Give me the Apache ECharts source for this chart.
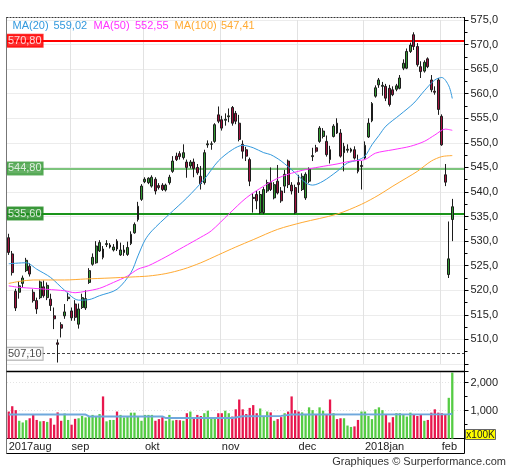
<!DOCTYPE html>
<html><head><meta charset="utf-8">
<script src="https://cdn.jsdelivr.net/npm/echarts@6/dist/echarts.min.js"></script>
<style>html,body{margin:0;padding:0;background:#fff}#c{width:512px;height:470px}</style>
</head><body><div id="c"></div>
<script>
// ---------- DATA ----------
const monthLabels = ['2017aug','sep','okt','nov','dec','2018jan','feb'];
const monthStarts = [0, 18, 39, 61, 83, 102, 124];

const opens = [530.7,527.4,519.8,519.6,521.4,524.0,524.9,519.6,517.9,518.5,
520.7,518.5,518.2,514.8,509.3,513.0,514.8,518.3,515.8,517.2,
513.1,516.5,516.4,521.6,525.3,525.6,528.0,528.4,529.3,528.8,
528.2,530.0,527.2,527.7,527.3,529.5,531.7,534.4,538.5,542.1,
541.9,541.2,542.6,541.3,541.4,540.4,541.9,544.2,547.3,547.8,
547.0,546.1,545.3,546.1,545.0,543.2,541.9,549.6,549.7,550.3,
555.7,554.7,554.6,555.3,557.2,556.0,554.0,549.7,548.6,546.6,
538.9,539.5,535.8,535.8,540.2,541.9,538.8,542.2,540.2,541.2,
546.3,541.4,540.9,541.9,540.5,538.8,542.2,547.2,549.0,550.3,
551.3,550.3,548.6,551.3,554.0,552.0,548.0,548.5,548.3,548.6,
546.3,545.2,546.9,551.2,554.5,559.5,561.8,561.5,561.5,561.1,
560.8,560.9,561.1,565.2,565.2,568.6,572.0,569.6,565.5,564.6,
567.1,562.8,560.5,562.8,555.4,543.5,523.2,534.4];
const closes = [527.7,523.6,516.4,520.9,522.5,526.1,523.3,517.9,516.2,521.7,
518.9,521.0,516.9,514.2,509.0,512.3,515.6,518.6,514.4,514.5,
516.2,518.5,518.3,524.0,526.7,529.0,529.7,526.7,529.5,529.2,
528.8,528.4,528.2,528.2,528.7,531.4,533.4,537.1,541.2,542.6,
542.8,543.0,540.2,540.9,540.5,541.4,543.0,546.3,546.6,547.2,
548.0,545.0,546.1,544.8,543.9,541.7,548.0,549.8,549.8,553.7,
554.4,553.0,554.8,555.5,554.0,554.4,550.7,548.3,547.3,542.2,
538.7,538.2,539.5,540.5,541.9,540.5,541.5,539.8,538.2,543.6,
541.5,540.2,535.8,541.5,543.2,543.6,544.6,547.4,548.3,553.0,
552.4,547.6,546.6,553.4,552.0,547.3,549.3,548.7,548.7,546.9,
544.2,545.4,549.5,554.0,558.0,561.2,562.8,561.7,559.1,557.8,
559.8,561.6,563.2,566.2,568.6,569.9,569.6,565.9,564.5,566.4,
565.5,560.8,560.3,556.8,549.6,542.0,526.4,537.0];
const highs = [531.5,528.0,520.3,521.9,523.0,526.6,525.5,520.2,518.5,522.0,
522.0,521.6,519.3,516.5,510.0,513.5,517.2,519.5,516.5,518.0,
517.3,519.3,520.0,524.5,527.5,530.0,530.2,529.0,530.2,529.6,
529.4,530.4,529.7,529.2,529.9,532.0,533.8,538.0,541.6,543.0,
543.0,543.4,543.0,541.8,541.8,541.7,543.5,547.3,548.0,548.3,
549.7,546.6,546.5,546.8,545.7,545.3,548.6,550.5,550.3,554.0,
557.4,555.5,556.0,557.0,557.5,556.5,555.7,550.5,549.2,547.0,
539.8,540.2,540.2,541.0,542.5,545.0,542.0,545.5,541.0,544.5,
546.6,542.0,541.5,543.5,543.8,544.0,545.0,549.0,549.6,553.4,
553.0,551.5,549.4,553.8,555.0,552.8,550.0,549.7,549.0,549.3,
547.6,546.3,550.3,555.0,558.3,561.7,563.2,562.4,562.0,561.8,
561.5,562.0,563.8,567.0,569.2,570.4,572.5,570.3,566.6,566.8,
567.4,563.8,561.5,563.2,555.8,545.7,534.0,538.6];
const lows = [527.2,523.0,515.8,518.3,520.5,523.7,522.8,517.5,515.2,518.2,
518.5,518.0,515.8,512.1,505.3,510.4,514.2,517.8,513.8,513.8,
512.2,516.2,516.0,521.3,525.0,525.4,527.8,526.3,528.8,528.5,
527.9,528.0,527.0,527.0,527.0,529.2,531.5,534.0,538.2,541.8,
541.6,540.9,539.5,540.5,540.2,540.1,541.5,543.9,546.3,546.6,
546.6,542.9,544.8,543.0,543.5,540.5,541.5,549.0,548.6,550.0,
554.0,552.5,553.5,554.2,553.5,553.8,550.3,546.8,546.3,541.2,
535.8,536.5,535.5,535.5,539.8,540.2,538.5,539.5,537.8,539.8,
540.8,539.5,535.5,539.8,540.2,538.4,541.8,546.3,548.0,550.0,
550.9,547.2,545.8,551.1,551.8,547.0,544.2,548.0,548.0,546.6,
543.8,540.5,546.6,551.0,554.2,559.2,561.2,559.6,558.5,557.4,
559.5,560.5,560.9,564.8,565.0,568.3,568.9,565.5,563.2,564.3,
565.2,560.3,559.8,555.7,549.4,541.2,522.5,530.0];
// volume in units of 100K shares
const volumes = [970,1160,1020,640,580,660,730,850,670,620,
630,600,730,500,940,640,900,670,500,710,
730,810,760,810,850,810,880,1510,620,670,
670,970,850,760,790,930,930,790,640,850,
850,850,640,700,770,640,850,650,670,660,
640,910,970,730,850,810,910,1000,770,770,
910,910,1000,910,790,1050,1400,1050,880,1100,
1200,910,1080,810,970,940,640,700,770,910,
970,1510,1020,970,940,880,1120,1020,880,1120,
1000,850,1400,910,700,730,730,470,420,440,
670,970,970,810,700,1050,1120,1020,880,580,
770,910,910,880,790,930,850,810,850,640,
670,930,1050,930,910,850,1460,2360];
// moving averages: [candle index, value]
const ma20 = [[0,525.4],[5,525.6],[8,524.3],[12,522.6],[16,520.0],[20,518.0],[23,518.1],[26,518.9],[31,520.2],[35,523.6],[37,527.0],[39,530.2],[41,532.1],[46,535.5],[51,538.8],[56,542.6],[60,546.3],[64,548.6],[67,549.5],[70,549.0],[73,548.0],[75,547.6],[78,546.3],[82,543.9],[85,541.9],[87,541.4],[90,542.2],[94,544.2],[97,545.9],[100,546.5],[102,547.3],[104,549.6],[106,551.5],[108,553.4],[112,555.7],[116,558.1],[119,560.6],[122,562.8],[124,563.3],[126,561.6],[127,559.02]];
const ma50 = [[0,520.9],[3,520.6],[7,520.4],[11,520.2],[16,519.9],[19,519.5],[22,519.8],[26,520.4],[30,521.6],[34,522.9],[37,524.3],[40,525.0],[45,526.8],[50,528.8],[55,530.8],[58,532.1],[63,535.5],[68,538.8],[73,541.2],[77,542.8],[80,543.6],[84,544.4],[89,545.1],[94,545.7],[98,546.3],[102,546.6],[105,547.9],[110,548.6],[115,549.3],[119,550.3],[122,551.6],[125,552.8],[127,552.55]];
const ma100 = [[0,521.4],[3,521.8],[7,522.1],[16,522.1],[22,522.3],[29,522.5],[35,522.7],[40,522.9],[45,523.4],[50,524.3],[55,525.6],[60,527.2],[65,528.8],[70,530.3],[77,532.4],[84,533.8],[94,535.5],[101,537.5],[106,539.4],[110,541.2],[114,542.9],[117,544.2],[121,546.3],[124,547.2],[127,547.41]];
const volMa = [[0,860],[22,860],[23,795],[44,795],[45,735],[64,740],[67,800],[78,815],[81,865],[126,870],[127,890]];
// horizontal price levels
const levelValues = [570.8, 544.8, 535.6, 507.1];
const levelTexts = ['570,80','544,80','535,60','507,10'];

// ---------- BUILD ----------
const FONT = '"Liberation Sans", Arial, sans-serif';
const UP = '#339933', DOWN = '#A3123F';
const VUP = '#55CC44', VDOWN = '#E8174D';
const C20 = '#3399DD', C50 = '#FF33FF', C100 = '#FFAA33';
const padCats = 3;
const categories = Array.from({length: opens.length + padCats}, (_, i) => String(i));
const candles = opens.map((o, i) => [o, closes[i], lows[i], highs[i]]);
const volData = volumes.map((v, i) => ({value: v, itemStyle: {color: closes[i] >= opens[i] ? VUP : VDOWN}}));
const isMonth = (idx) => monthStarts.indexOf(idx) >= 0;
const fmt = (v) => v.toFixed(2).replace('.', ',');

const levelStyles = [
  {line: {color: '#FF0000', width: 2, type: 'solid'}, bg: '#FF0000', fg: '#fff', border: '#FF0000'},
  {line: {color: '#7DC47D', width: 2, type: 'solid'}, bg: '#3E9E3E', fg: '#fff', border: '#3E9E3E'},
  {line: {color: '#1A941A', width: 2, type: 'solid'}, bg: '#1E8A1E', fg: '#fff', border: '#1E8A1E'},
  {line: {color: '#444', width: 1, type: [3, 2]}, bg: '#fff', fg: '#222', border: '#999'}
];

const gridL = 7, gridR = 47.5;
const splitStyle = {show: true, interval: (i) => i > 0 && isMonth(i), lineStyle: {color: '#e2e2e2', width: 1}};

const chart = echarts.init(document.getElementById('c'), null, {renderer: 'canvas'});
chart.setOption({
  animation: false,
  backgroundColor: '#fff',
  textStyle: {fontFamily: FONT},
  grid: [
    {left: gridL, right: gridR, top: 20, height: 344},
    {left: gridL, right: gridR, top: 371.5, height: 67.2}
  ],
  xAxis: [
    {type: 'category', gridIndex: 0, data: categories, boundaryGap: true,
     axisLine: {show: false}, axisTick: {show: false}, axisLabel: {show: false}, splitLine: splitStyle},
    {type: 'category', gridIndex: 1, data: categories, boundaryGap: true,
     axisLine: {show: true, lineStyle: {color: '#000', width: 1}}, axisTick: {show: false},
     axisLabel: {show: true, interval: (i) => isMonth(i), align: 'left', margin: 3,
       fontSize: 11, color: '#222', fontFamily: FONT,
       formatter: (v, i) => { const k = monthStarts.indexOf(i); return k >= 0 ? monthLabels[k] : ''; }},
     splitLine: splitStyle}
  ],
  yAxis: [
    {type: 'value', gridIndex: 0, position: 'right', min: 505, max: 575, interval: 5,
     axisLine: {show: true, lineStyle: {color: '#000'}},
     axisTick: {show: true, length: 4, lineStyle: {color: '#000'}},
     minorTick: {show: true, splitNumber: 2, length: 3, lineStyle: {color: '#000'}},
     axisLabel: {show: true, margin: 6, fontSize: 11, color: '#222', fontFamily: FONT, showMinLabel: false,
       formatter: (v) => v.toFixed(1).replace('.', ',')},
     splitLine: {show: true, lineStyle: {color: '#ececec', width: 1}}},
    {type: 'value', gridIndex: 1, position: 'right', min: 0, max: 2400, interval: 1000,
     axisLine: {show: true, lineStyle: {color: '#000'}},
     axisTick: {show: true, length: 4, lineStyle: {color: '#000'}},
     minorTick: {show: true, splitNumber: 2, length: 3, lineStyle: {color: '#000'}},
     axisLabel: {show: true, margin: 6, fontSize: 11, color: '#222', fontFamily: FONT,
       showMinLabel: false, showMaxLabel: false},
     splitLine: {show: true, lineStyle: {color: '#e4e4e4', type: [1, 2]}}}
  ],
  series: [
    {type: 'candlestick', xAxisIndex: 0, yAxisIndex: 0, data: candles, barWidth: 2.4, z: 3,
     itemStyle: {color: UP, color0: DOWN, borderColor: '#1c1c1c', borderColor0: '#1c1c1c', borderColorDoji: '#555', borderWidth: 1},
     markLine: {silent: true, symbol: 'none', label: {show: false}, z: 2,
       data: levelValues.map((v, k) => ({yAxis: v, lineStyle: levelStyles[k].line}))}},
    {type: 'line', xAxisIndex: 0, yAxisIndex: 0, data: ma20, smooth: 0.3, showSymbol: false, z: 4,
     lineStyle: {color: C20, width: 1}},
    {type: 'line', xAxisIndex: 0, yAxisIndex: 0, data: ma50, smooth: 0.3, showSymbol: false, z: 4,
     lineStyle: {color: C50, width: 1}},
    {type: 'line', xAxisIndex: 0, yAxisIndex: 0, data: ma100, smooth: 0.3, showSymbol: false, z: 4,
     lineStyle: {color: C100, width: 1}},
    {type: 'scatter', xAxisIndex: 0, yAxisIndex: 0, symbolSize: 0, z: 10, silent: true,
     data: levelValues.map((v, k) => ({
       value: [0, v],
       label: {show: true, position: 'right', distance: -1.8, formatter: levelTexts[k],
         backgroundColor: levelStyles[k].bg, color: levelStyles[k].fg,
         borderColor: levelStyles[k].border, borderWidth: 1,
         fontSize: 11, fontFamily: FONT, lineHeight: 11, padding: [1, 1, 0, 1]}
     }))},
    {type: 'bar', xAxisIndex: 1, yAxisIndex: 1, data: volData, barWidth: 2.3, z: 2},
    {type: 'line', xAxisIndex: 1, yAxisIndex: 1, data: volMa, showSymbol: false, z: 4,
     lineStyle: {color: '#6FA8DC', width: 2}}
  ],
  graphic: [
    {type: 'line', shape: {x1: 6.5, y1: 17, x2: 6.5, y2: 453.5}, style: {stroke: '#777', lineWidth: 1}, z: 20},
    {type: 'line', shape: {x1: 6.5, y1: 17.5, x2: 464.5, y2: 17.5}, style: {stroke: '#333', lineWidth: 1, lineDash: [2, 1]}, z: 20},
    {type: 'line', shape: {x1: 6.5, y1: 371.5, x2: 464.5, y2: 371.5}, style: {stroke: '#000', lineWidth: 1.5}, z: 20},
    {type: 'line', shape: {x1: 6.5, y1: 453.5, x2: 464.5, y2: 453.5}, style: {stroke: '#000', lineWidth: 1}, z: 20},
    {type: 'line', shape: {x1: 464.5, y1: 17, x2: 464.5, y2: 453.5}, style: {stroke: '#000', lineWidth: 1}, z: 20},
    {type: 'text', x: 12.5, y: 25.5, style: {text: 'MA(20)', fill: C20, font: '11px ' + FONT, verticalAlign: 'middle'}, z: 20},
    {type: 'text', x: 53.5, y: 25.5, style: {text: fmt(ma20[ma20.length - 1][1]), fill: C20, font: '11px ' + FONT, verticalAlign: 'middle'}, z: 20},
    {type: 'text', x: 93.5, y: 25.5, style: {text: 'MA(50)', fill: C50, font: '11px ' + FONT, verticalAlign: 'middle'}, z: 20},
    {type: 'text', x: 135, y: 25.5, style: {text: fmt(ma50[ma50.length - 1][1]), fill: C50, font: '11px ' + FONT, verticalAlign: 'middle'}, z: 20},
    {type: 'text', x: 174.5, y: 25.5, style: {text: 'MA(100)', fill: C100, font: '11px ' + FONT, verticalAlign: 'middle'}, z: 20},
    {type: 'text', x: 221, y: 25.5, style: {text: fmt(ma100[ma100.length - 1][1]), fill: C100, font: '11px ' + FONT, verticalAlign: 'middle'}, z: 20},
    {type: 'rect', shape: {x: 465.5, y: 429.5, width: 30, height: 10}, style: {fill: '#FFFF00', stroke: '#666', lineWidth: 1}, z: 20},
    {type: 'text', x: 480.5, y: 435, style: {text: 'x100K', fill: '#222', font: '10px ' + FONT, align: 'center', verticalAlign: 'middle'}, z: 21},
    {type: 'text', x: 506, y: 462, style: {text: 'Graphiques © Surperformance.com', fill: '#333', font: '11px ' + FONT, align: 'right', verticalAlign: 'middle'}, z: 20}
  ]
});
</script>
</body></html>
